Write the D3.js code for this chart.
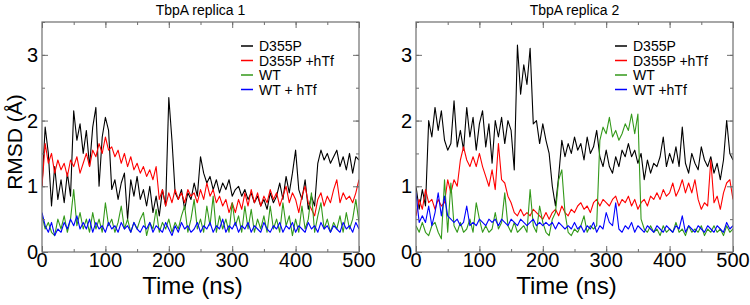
<!DOCTYPE html>
<html><head><meta charset="utf-8">
<script src="https://cdn.jsdelivr.net/npm/d3@7"></script>
<style>body{margin:0;background:#fff}svg{display:block}text{font-family:"Liberation Sans",Arial,sans-serif}</style>
</head><body><svg id="c" width="750" height="305"></svg>
<script>
const time = d3.range(0, 501, 5);
const xTicks = [0,100,200,300,400,500];
const yTicks = [0,1,2,3];
const titles = ["TbpA replica 1","TbpA replica 2"];
const seriesNames1 = ["D355P","D355P +hTf","WT","WT + hTf"];
const seriesNames2 = ["D355P","D355P +hTf","WT","WT +hTf"];
const colors = ["#000000","#ff0000","#33991a","#0000ff"];

const r1D = [1.0,1.9,1.5,0.7,1.3,0.8,1.1,0.75,1.2,0.85,2.15,1.7,1.95,1.5,1.85,1.3,1.9,2.2,1.0,1.75,2.05,1.85,0.95,1.1,0.8,1.05,1.2,0.5,1.1,0.85,1.15,0.8,0.95,0.7,1.0,0.6,0.85,0.55,0.95,0.7,2.35,1.7,0.9,0.8,0.95,0.65,0.9,0.8,1.05,0.85,1.45,1.2,1.05,1.15,0.95,1.1,0.9,1.05,0.95,1.1,0.85,0.95,1.0,0.85,0.95,0.8,0.9,0.75,0.85,0.7,0.8,0.65,0.9,0.75,0.85,1.05,0.8,1.15,0.9,1.2,1.55,0.95,0.8,1.1,0.65,0.85,0.7,1.35,1.55,1.4,1.5,1.35,1.45,1.55,1.3,1.45,1.25,1.5,1.2,1.45,1.4];
const r1DH = [1.0,1.65,1.35,1.5,1.2,1.4,1.25,1.35,1.15,1.4,1.3,1.45,1.2,1.35,1.5,1.3,1.55,1.45,1.65,1.5,1.75,1.55,1.6,1.45,1.55,1.35,1.5,1.3,1.45,1.25,1.35,1.2,1.3,1.15,1.25,1.1,1.3,0.8,0.95,0.7,0.9,0.75,0.95,0.8,0.9,0.75,0.95,0.85,0.9,0.75,0.95,0.8,1.05,0.85,0.95,0.75,0.85,0.7,0.8,0.6,0.75,0.6,0.8,0.65,0.9,0.7,0.95,0.75,0.9,0.7,0.85,0.75,0.95,0.8,0.9,0.7,0.85,1.0,0.75,0.9,0.8,0.6,0.85,1.0,0.75,0.65,0.55,0.8,0.9,0.7,0.85,0.75,0.95,1.1,0.75,0.9,0.8,0.85,0.75,0.9,1.1];
const r1W = [0.55,0.35,0.45,0.3,0.25,0.5,0.35,0.55,0.3,0.5,0.95,0.4,0.6,0.35,0.5,0.3,0.6,0.35,0.5,0.3,0.75,0.4,0.5,0.3,0.45,0.7,0.35,0.5,0.3,0.45,0.35,0.5,0.6,0.25,0.45,0.35,0.65,0.3,0.45,0.35,0.5,0.3,0.45,0.35,0.55,0.7,0.3,0.5,0.8,0.35,0.5,0.3,0.7,0.4,0.85,0.3,0.55,0.35,0.5,0.3,0.75,0.4,0.55,0.3,0.7,0.35,0.65,0.3,0.5,0.35,0.55,0.3,0.7,0.35,0.5,0.3,0.75,0.4,0.55,0.25,0.5,0.3,0.7,0.35,0.5,0.9,0.3,0.55,0.75,0.35,0.5,0.3,0.45,0.35,0.55,0.3,0.6,0.35,0.5,0.8,0.45];
const r1WH = [0.6,0.4,0.3,0.45,0.25,0.35,0.3,0.45,0.35,0.5,0.4,0.55,0.35,0.45,0.35,0.5,0.3,0.45,0.35,0.4,0.3,0.45,0.35,0.4,0.3,0.45,0.35,0.4,0.3,0.45,0.35,0.3,0.4,0.35,0.45,0.3,0.4,0.35,0.3,0.45,0.35,0.25,0.4,0.3,0.45,0.35,0.4,0.3,0.35,0.45,0.3,0.4,0.35,0.45,0.3,0.4,0.35,0.5,0.3,0.4,0.35,0.45,0.3,0.4,0.35,0.45,0.3,0.4,0.35,0.3,0.45,0.35,0.3,0.4,0.35,0.45,0.3,0.4,0.35,0.45,0.3,0.4,0.35,0.3,0.45,0.35,0.4,0.3,0.45,0.35,0.4,0.3,0.4,0.35,0.3,0.45,0.35,0.4,0.3,0.45,0.35];
const r2D = [1.0,0.65,0.95,0.7,2.0,1.75,2.2,1.85,2.15,1.7,1.55,1.65,2.3,1.6,1.85,1.55,2.2,1.75,2.05,1.55,1.95,2.15,1.6,1.95,1.35,2.0,1.75,2.05,1.65,2.0,1.85,1.25,3.15,2.4,2.85,2.55,3.1,1.95,2.0,1.65,1.95,1.7,1.5,1.0,0.7,1.15,1.7,1.45,1.65,1.5,1.75,1.55,1.65,1.4,1.75,1.5,1.6,1.85,1.45,1.3,1.55,1.3,1.2,1.45,1.3,1.55,1.45,1.65,1.45,1.55,1.35,1.5,1.1,1.4,1.2,1.35,1.3,1.45,1.75,1.3,1.5,1.35,1.6,1.3,1.9,1.35,1.2,1.5,1.35,1.25,1.6,1.4,1.3,1.45,1.2,1.35,1.1,1.4,2.0,1.5,1.4];
const r2DH = [0.55,0.8,0.65,0.95,0.75,0.8,0.65,0.8,0.7,0.75,1.1,0.9,1.1,1.0,1.4,1.6,1.4,1.3,1.45,1.3,1.5,1.3,1.15,1.0,1.25,0.95,1.65,1.1,1.05,0.85,0.75,0.6,0.55,0.65,0.55,0.6,0.55,0.65,0.6,0.55,0.5,0.6,0.5,0.6,0.65,0.55,0.7,0.6,0.55,0.65,0.6,0.7,0.75,0.65,0.7,0.6,0.75,0.8,0.7,0.8,0.75,0.7,0.8,0.85,0.7,0.8,0.75,0.85,0.7,0.8,0.65,0.75,0.8,0.7,0.85,0.8,0.9,0.8,0.95,0.85,0.9,1.05,0.85,0.95,1.1,0.9,1.05,0.9,1.1,0.8,0.65,0.75,0.7,1.4,0.75,0.85,0.65,0.9,1.05,1.1,0.8];
const r2W = [0.4,0.3,0.45,0.3,0.25,0.4,0.45,0.3,0.2,1.1,0.3,1.05,0.4,0.3,0.45,0.3,0.35,0.5,0.3,0.75,0.5,0.3,0.4,0.3,0.35,0.6,0.35,0.45,0.9,0.4,0.3,0.45,0.3,0.35,0.4,0.3,0.95,0.4,0.3,0.7,0.45,0.3,0.25,0.5,0.6,1.1,1.25,0.6,0.3,0.25,0.35,0.3,0.4,0.55,0.3,0.4,0.35,0.4,1.7,1.9,1.8,2.05,1.75,1.85,1.7,1.8,1.95,1.85,2.1,1.8,2.1,0.5,0.35,0.3,0.4,0.3,0.35,0.25,0.4,0.3,0.35,0.3,0.45,0.3,0.35,0.25,0.4,0.3,0.35,0.3,0.4,0.25,0.35,0.3,0.4,0.3,0.35,0.25,0.4,0.3,0.35];
const r2WH = [0.9,0.45,0.55,0.45,0.7,0.4,0.6,0.9,0.55,0.85,0.55,0.5,0.45,0.5,0.4,0.45,0.7,0.4,0.45,0.4,0.5,0.45,0.4,0.5,0.45,0.5,0.4,0.5,0.45,0.4,0.5,0.45,0.4,0.5,0.45,0.4,0.45,0.5,0.4,0.45,0.4,0.45,0.4,0.45,0.35,0.45,0.4,0.35,0.4,0.35,0.45,0.35,0.4,0.3,0.4,0.35,0.45,0.3,0.4,0.35,0.6,0.45,0.4,0.75,0.35,0.3,0.4,0.35,0.45,0.3,0.4,0.35,0.3,0.4,0.35,0.3,0.4,0.35,0.3,0.4,0.35,0.3,0.4,0.35,0.55,0.3,0.4,0.35,0.3,0.4,0.35,0.3,0.4,0.35,0.3,0.4,0.35,0.3,0.45,0.35,0.4];

const panels = [
  {left:42, title:titles[0], names:seriesNames1, data:[r1D,r1DH,r1W,r1WH]},
  {left:416, title:titles[1], names:seriesNames2, data:[r2D,r2DH,r2W,r2WH]}
];
const W = 317, topM = 22, H = 230;
const svg = d3.select("#c");
const frame = "#6e6e6e";

panels.forEach(p => {
  const g = svg.append("g").attr("transform", `translate(${p.left},${topM})`);
  const x = d3.scaleLinear().domain([0,500]).range([0,W]);
  const y = d3.scaleLinear().domain([0,3.5]).range([H,0]);
  const line = d3.line().x((d,i)=>x(time[i])).y(d=>y(d));
  g.append("defs").append("clipPath").attr("id","cp"+p.left).append("rect").attr("width",W).attr("height",H);
  const lg = g.append("g").attr("clip-path",`url(#cp${p.left})`);
  p.data.forEach((s,k)=>{
    lg.append("path").datum(s).attr("d",line).attr("fill","none")
      .attr("stroke",colors[k]).attr("stroke-width",1.1).attr("stroke-linejoin","round");
  });
  const minorX = d3.range(0,501,50), minorY = d3.range(0,3.51,0.5);
  const ax = (gen, tr, vals, size) => {
    const a = g.append("g").attr("transform", tr)
      .call(gen.tickValues(vals).tickSize(size).tickSizeOuter(0).tickFormat(""));
    a.select(".domain").remove();
    a.selectAll("line").attr("stroke", frame);
    return a;
  };
  ax(d3.axisTop(x), `translate(0,${H})`, minorX, 3);
  ax(d3.axisTop(x), `translate(0,${H})`, xTicks, 6);
  ax(d3.axisBottom(x), `translate(0,0)`, minorX, 3);
  ax(d3.axisBottom(x), `translate(0,0)`, xTicks, 6);
  ax(d3.axisRight(y), `translate(0,0)`, minorY, 3);
  ax(d3.axisRight(y), `translate(0,0)`, yTicks, 6);
  ax(d3.axisLeft(y), `translate(${W},0)`, minorY, 3);
  ax(d3.axisLeft(y), `translate(${W},0)`, yTicks, 6);
  g.append("rect").attr("width",W).attr("height",H).attr("fill","none").attr("stroke",frame).attr("stroke-width",1.2);
  g.selectAll(".xl").data(xTicks).enter().append("text")
    .attr("x",d=>x(d)).attr("y",H+15).attr("text-anchor","middle")
    .attr("font-size",20).attr("fill","#000").text(d=>d);
  g.selectAll(".yl").data(yTicks).enter().append("text")
    .attr("x",-4).attr("y",d=>y(d)+7).attr("text-anchor","end")
    .attr("font-size",20).attr("fill","#000").text(d=>d);
  g.append("text").attr("x",W/2-8).attr("y",H+42).attr("text-anchor","middle")
    .attr("font-size",24).text("Time (ns)");
  svg.append("text").attr("x",p.left+W/2).attr("y",15).attr("text-anchor","middle")
    .attr("font-size",14).text(p.title);
  const leg = svg.append("g");
  p.names.forEach((n,k)=>{
    const yy = 46 + k*14.5;
    leg.append("line").attr("x1",p.left+199).attr("x2",p.left+211).attr("y1",yy).attr("y2",yy)
      .attr("stroke",colors[k]).attr("stroke-width",1.5);
    leg.append("text").attr("x",p.left+217).attr("y",yy+5).attr("font-size",14).text(n);
  });
});
svg.append("text").attr("transform","translate(22,142) rotate(-90)").attr("text-anchor","middle")
  .attr("font-size",21).text("RMSD (Å)");
</script></body></html>
